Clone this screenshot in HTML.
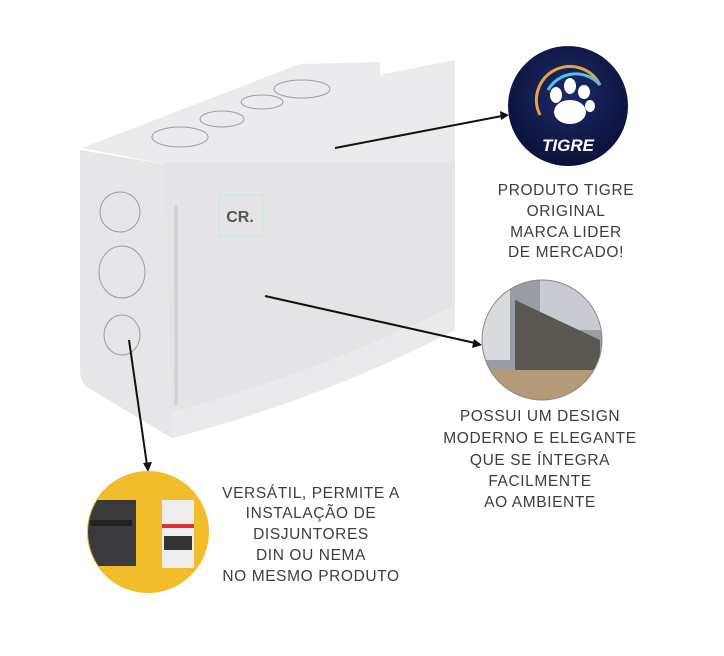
<!DOCTYPE html>
<html><head><meta charset="utf-8"><style>
html,body{margin:0;padding:0;background:#fff;width:724px;height:656px;overflow:hidden}
svg{display:block}
text{font-family:"Liberation Sans",sans-serif;fill:#3d3d3d;font-size:15.5px;letter-spacing:0.6px;text-anchor:middle}
</style></head><body>
<svg width="724" height="656" viewBox="0 0 724 656">
<defs>
<clipPath id="c2"><circle cx="542" cy="340" r="60"/></clipPath>
<clipPath id="c3"><circle cx="148" cy="532" r="60"/></clipPath>
<radialGradient id="nav" cx="50%" cy="40%" r="60%"><stop offset="0" stop-color="#1c2a6a"/><stop offset="1" stop-color="#0b1238"/></radialGradient>
</defs>
<!-- box -->
<polygon points="82,148 300,64 380,62 380,75 455,60 455,165 170,165" fill="#ebebed"/>
<path d="M80,150 L170,165 L172,438 L92,390 Q80,385 80,370 Z" fill="#e6e6e8"/>
<path d="M165,162 L455,162 L455,330 Q320,400 172,438 Z" fill="#e4e4e6"/>
<path d="M172,412 Q320,372 455,305 L455,330 Q320,400 172,438 Z" fill="#eaeaec"/>
<line x1="176" y1="205" x2="176" y2="405" stroke="#d0d0d3" stroke-width="3"/>
<!-- top holes -->
<g fill="none" stroke="#9c9ca0" stroke-width="1">
<ellipse cx="180" cy="137" rx="28" ry="10"/>
<ellipse cx="222" cy="119" rx="22" ry="8"/>
<ellipse cx="262" cy="102" rx="21" ry="7"/>
<ellipse cx="302" cy="89" rx="28" ry="9"/>
<ellipse cx="120" cy="212" rx="20" ry="20"/>
<ellipse cx="122" cy="272" rx="23" ry="26"/>
<ellipse cx="122" cy="335" rx="18" ry="20"/>
</g>
<rect x="219" y="195" width="44" height="41" fill="none" stroke="#cfe6df" stroke-width="1.5"/>
<text x="240" y="222" style="font-size:16px;font-weight:bold;fill:#555;letter-spacing:0">CR.</text>
<!-- arrows -->
<g stroke="#111" stroke-width="2" fill="#111">
<line x1="335" y1="148" x2="502" y2="116"/>
<polygon points="509,115 500,111 501,120" stroke="none"/>
<line x1="265" y1="296" x2="475" y2="343"/>
<polygon points="482,345 474,339 472,348" stroke="none"/>
<line x1="129" y1="340" x2="147" y2="465"/>
<polygon points="148,472 143,463 152,462" stroke="none"/>
</g>
<!-- tigre -->
<circle cx="568" cy="106" r="60" fill="url(#nav)"/>
<path d="M540,115 A32,32 0 0 1 600,85" fill="none" stroke="#e9a33a" stroke-width="3"/>
<path d="M548,90 A32,32 0 0 1 600,85" fill="none" stroke="#4fc3e8" stroke-width="3"/>
<g fill="#fff">
<ellipse cx="570" cy="112" rx="16" ry="12"/>
<ellipse cx="556" cy="95" rx="6" ry="8"/><ellipse cx="570" cy="86" rx="6" ry="8"/>
<ellipse cx="584" cy="92" rx="6" ry="7"/><ellipse cx="590" cy="106" rx="5" ry="6"/>
</g>
<text x="568" y="151" style="fill:#fff;font-weight:bold;font-style:italic;font-size:17px;letter-spacing:0">TIGRE</text>
<!-- stairs -->
<g clip-path="url(#c2)">
<rect x="480" y="280" width="124" height="124" fill="#9a9da3"/>
<rect x="540" y="280" width="64" height="50" fill="#c8ccd2"/>
<polygon points="515,300 600,340 600,380 515,380" fill="#5a5650"/>
<rect x="480" y="370" width="124" height="34" fill="#b59a7a"/>
<rect x="482" y="290" width="28" height="70" fill="#d8dade"/>
</g>
<circle cx="542" cy="340" r="60" fill="none" stroke="#888" stroke-width="1"/>
<!-- yellow -->
<circle cx="148" cy="532" r="61" fill="#f2bd2a"/>
<g clip-path="url(#c3)">
<rect x="86" y="500" width="50" height="66" fill="#3a3a3c"/>
<rect x="90" y="520" width="42" height="6" fill="#222"/>
<rect x="162" y="500" width="32" height="68" fill="#eeeeee"/>
<rect x="162" y="524" width="32" height="4" fill="#d33"/>
<rect x="164" y="536" width="28" height="14" fill="#333"/>
</g>
<!-- texts -->
<text x="566" y="195">PRODUTO TIGRE</text>
<text x="566" y="216">ORIGINAL</text>
<text x="566" y="237">MARCA LIDER</text>
<text x="566" y="257">DE MERCADO!</text>
<g style="font-size:16px">
<text x="540" y="421">POSSUI UM DESIGN</text>
<text x="540" y="443">MODERNO E ELEGANTE</text>
<text x="540" y="465">QUE SE ÍNTEGRA</text>
<text x="540" y="486">FACILMENTE</text>
<text x="540" y="507">AO AMBIENTE</text>
<text x="311" y="498">VERSÁTIL, PERMITE A</text>
<text x="311" y="518">INSTALAÇÃO DE</text>
<text x="311" y="539">DISJUNTORES</text>
<text x="311" y="560">DIN OU NEMA</text>
<text x="311" y="581">NO MESMO PRODUTO</text>
</g>
</svg>
</body></html>
